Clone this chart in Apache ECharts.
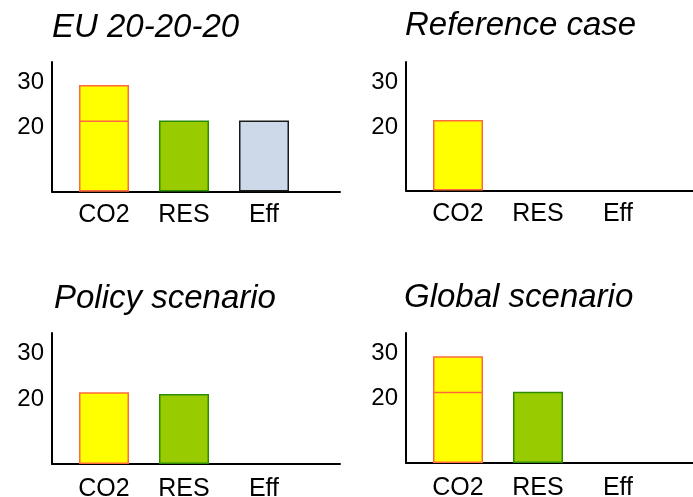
<!DOCTYPE html>
<html>
<head>
<meta charset="utf-8">
<script src="https://cdn.jsdelivr.net/npm/echarts@6/dist/echarts.min.js"></script>
<style>
  html, body { margin: 0; padding: 0; background: #fff; }
  #chart { width: 693px; height: 497px; }
</style>
</head>
<body>
<div id="chart"></div>
<script>
// Targets per scenario panel
const panelTitles = ['EU 20-20-20', 'Reference case', 'Policy scenario', 'Global scenario'];
const categories = ['CO2', 'RES', 'Eff'];
// Lower bar segment for each category (null = no bar)
const baseValues = [
  [20, 20, 20],
  [20, null, null],
  [20, 19.5, null],
  [20, 20, null]
];
// Additional CO2 reduction on top of the base value
const co2Extra = [10, null, null, 10];
const yTickLabels = [20, 30];

const FONT = 'Liberation Sans, Arial, sans-serif';
const Y_MAX = 36.5;

const fills = { CO2: '#ffff00', RES: '#99cc00', Eff: '#cdd9e8' };
const borders = { CO2: '#ff6a3d', RES: '#2e8b00', Eff: '#1a1a1a' };

// Panel frames: y-axis position, top, baseline, right end of x-axis line
const frames = [
  { x: 52, top: 62, base: 191.5, end: 340, titleX: 52, titleY: 11, labelMargin: 11 },
  { x: 406, top: 62, base: 190.5, end: 693, titleX: 405, titleY: 9, labelMargin: 11 },
  { x: 52, top: 333, base: 464, end: 340, titleX: 54, titleY: 282, labelMargin: 13 },
  { x: 406, top: 333, base: 463, end: 693, titleX: 404, titleY: 281, labelMargin: 13 }
];

const grids = [], xAxes = [], yAxes = [], series = [], titles = [];

frames.forEach((f, p) => {
  const h = f.base - f.top;
  // outer grid carries the axis lines and y labels
  grids.push({ left: f.x, top: f.top, width: f.end - f.x, height: h, outerBoundsMode: 'none' });
  // inner grid holds the bars and category labels
  grids.push({ left: f.x + 12, top: f.top, width: 240, height: h, outerBoundsMode: 'none' });
  const outer = p * 2, inner = p * 2 + 1;

  xAxes.push({
    gridIndex: outer, type: 'value', min: 0, max: 1,
    axisLine: { show: true, onZero: false, lineStyle: { color: '#000', width: 2 } },
    axisTick: { show: false }, axisLabel: { show: false }, splitLine: { show: false }
  });
  xAxes.push({
    gridIndex: inner, type: 'category', data: categories,
    axisLine: { show: false }, axisTick: { show: false }, splitLine: { show: false },
    axisLabel: { color: '#000', fontFamily: FONT, fontSize: 25, margin: f.labelMargin }
  });

  yAxes.push({
    gridIndex: outer, type: 'value', min: 0, max: Y_MAX, interval: 10,
    axisLine: { show: true, lineStyle: { color: '#000', width: 2 } },
    axisTick: { show: false }, splitLine: { show: false },
    axisLabel: {
      margin: 8, color: '#000', fontFamily: FONT, fontSize: 24,
      showMaxLabel: false,
      formatter: v => {
        if (!yTickLabels.includes(v)) return '';
        return v === 30 ? '{hi|' + v + '}' : '{lo|' + v + '}';
      },
      rich: {
        hi: { fontFamily: FONT, fontSize: 24, color: '#000', padding: [0, 0, 6, 0] },
        lo: { fontFamily: FONT, fontSize: 24, color: '#000', padding: [14, 0, 0, 0] }
      }
    }
  });
  yAxes.push({ gridIndex: inner, type: 'value', min: 0, max: Y_MAX, show: false });

  const styled = (v, c) => v == null ? null : {
    value: v,
    itemStyle: { color: fills[c], borderColor: borders[c], borderWidth: 1.5 }
  };

  // full CO2 target (base + extra) drawn behind, base bars overlaid in front
  series.push({
    type: 'bar', xAxisIndex: inner, yAxisIndex: inner,
    barWidth: 50, barGap: '-100%', silent: true,
    data: categories.map((c, i) =>
      i === 0 && co2Extra[p] != null ? styled(baseValues[p][i] + co2Extra[p], c) : null)
  });
  series.push({
    type: 'bar', xAxisIndex: inner, yAxisIndex: inner,
    barWidth: 50, barGap: '-100%', silent: true,
    data: categories.map((c, i) => styled(baseValues[p][i], c))
  });

  titles.push({
    text: panelTitles[p], left: f.titleX, top: f.titleY, padding: 0,
    textStyle: { fontFamily: FONT, fontSize: 33, fontStyle: 'italic', fontWeight: 'normal', color: '#000' }
  });
});

const chart = echarts.init(document.getElementById('chart'), null, { renderer: 'canvas' });
chart.setOption({
  animation: false,
  backgroundColor: '#fff',
  title: titles,
  grid: grids,
  xAxis: xAxes,
  yAxis: yAxes,
  series: series
});
</script>
</body>
</html>
